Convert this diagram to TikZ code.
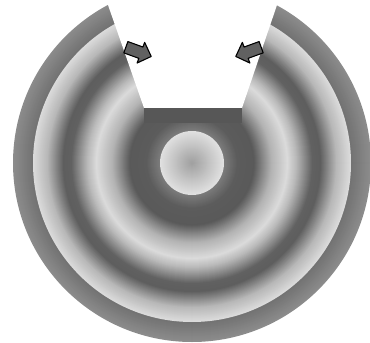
\documentclass[tikz,border=0pt]{standalone}
\usepackage{tikz}
\usetikzlibrary{calc}
\tikzset{
  arrowfill/.style={fill=black!62, draw=black, line width=1.1pt, line join=round},
  cutfill/.style={fill=white},
  barfill/.style={fill=black!66},
  blockarrow/.pic={
    \path[arrowfill] (-14,-6) -- (2,-6) -- (2,-11) -- (13,0) -- (2,11) -- (2,6) -- (-14,6) -- cycle;
  }
}
\begin{document}
\begin{tikzpicture}[x=1pt,y=-1pt]
\useasboundingbox (0,0) rectangle (370,343);
\coordinate (c) at (192,163);
% concentric shaded rings
\foreach \ro/\ga/\ri/\gb in {179/0.55/160/0.45, 159/0.86/146/0.73, 145/0.72/129/0.37, 128/0.37/121/0.38, 120/0.40/106/0.70, 105/0.72/96/0.86, 95/0.85/81/0.71, 80/0.70/63/0.36, 62/0.35/46/0.36, 45/0.37/33/0.48, 32/0.88/1/0.63}{
  \pgfmathtruncatemacro\nn{\ro-\ri}
  \foreach \k in {0,...,\nn}{
    \pgfmathsetmacro\g{\ga+(\gb-\ga)*\k/max(\nn,1)}
    \definecolor{ringc}{gray}{\g}
    \fill[ringc] (c) circle[radius=\ro-\k];
  }
}
% cut-out
\coordinate (bl) at (144,108);
\coordinate (br) at (242,108);
\coordinate (tl) at ($(bl)!1.4!(108,5)$);
\coordinate (tr) at ($(br)!1.4!(277,5)$);
\fill[cutfill] (bl) -- (br) -- (tr) -- (tl) -- cycle;
% flat bar
\fill[barfill] (bl) rectangle (242,123);
% arrows
\pic[rotate=-20] at (139,52) {blockarrow};
\pic[rotate=200] at (248,52) {blockarrow};
\end{tikzpicture}
\end{document}
